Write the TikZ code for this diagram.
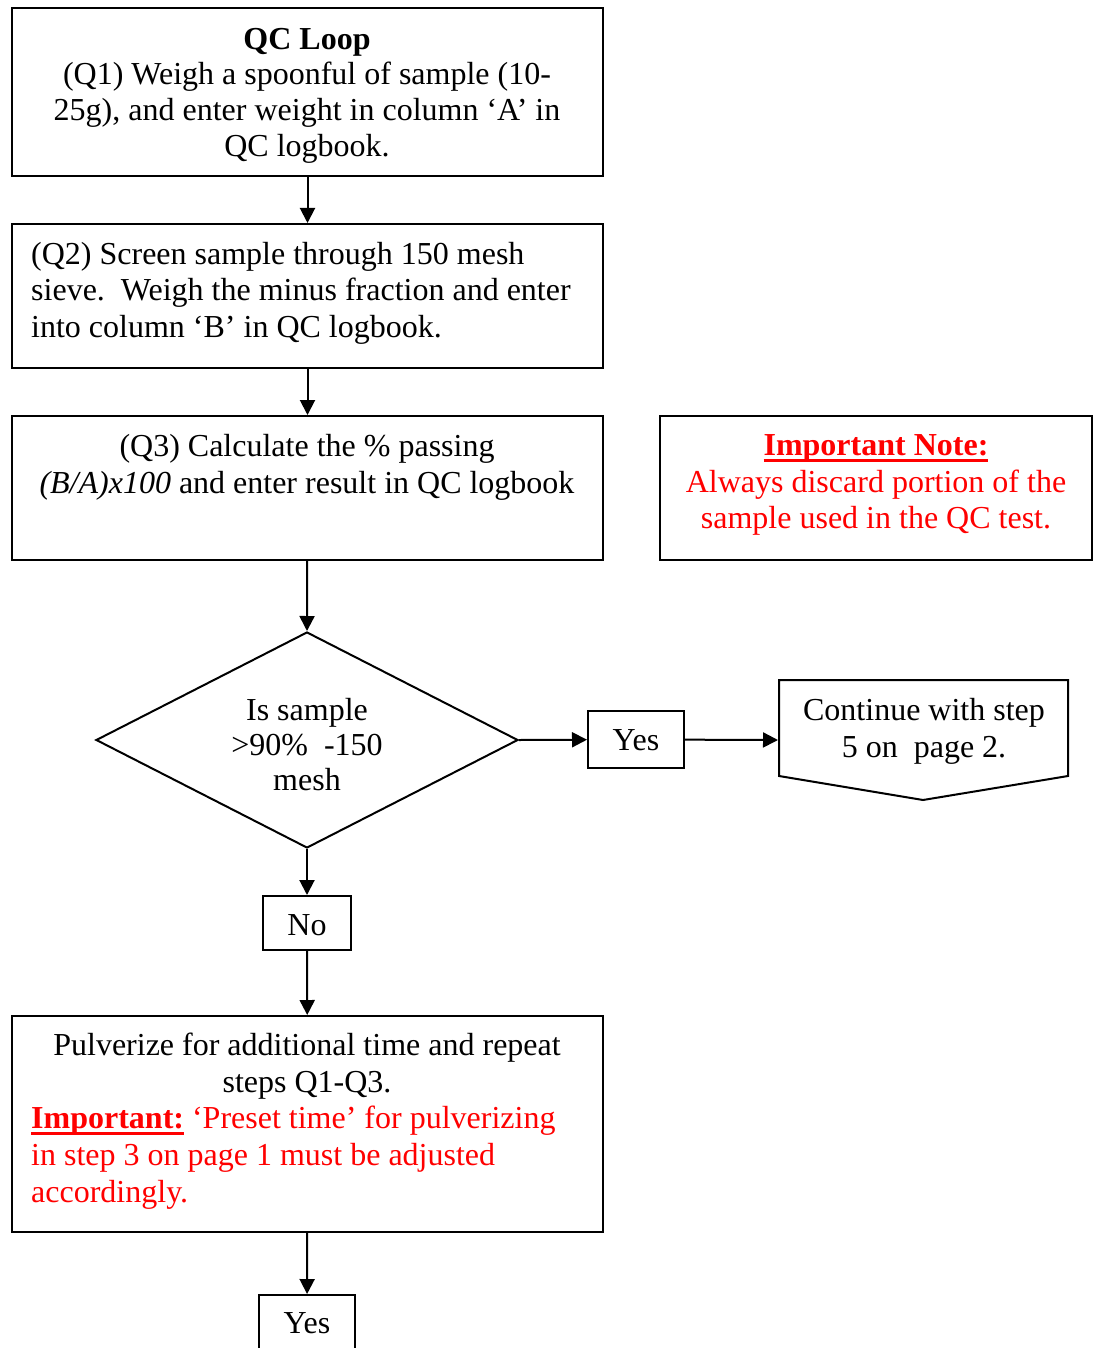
\documentclass[tikz,border=0pt]{standalone}
\usepackage{fontspec}
\setmainfont{Liberation Serif}
\usetikzlibrary{arrows.meta,shapes.geometric}
\definecolor{alertred}{RGB}{255,0,0}
% thick underline for the red headings
\newcommand{\thickul}[1]{\setbox0\hbox{#1}\rlap{\rule[-6.5pt]{\wd0}{3pt}}\box0\relax}

\begin{document}
\begin{tikzpicture}[x=1pt,y=-1pt,
  box/.style={draw,line width=2pt,inner sep=0pt},
  txt/.style={inner sep=0pt,anchor=base,font=\fontsize{32}{36}\selectfont},
  ltxt/.style={txt,anchor=base west},
  arr/.style={line width=2pt,-{Triangle[length=15pt,width=15pt]}}]

\fill[white] (0,0) rectangle (1098,1348);
\useasboundingbox (0,0) rectangle (1098,1348);

% process boxes
\node[box,minimum width=591pt,minimum height=168pt] (q1) at (307.5,92) {};
\node[box,minimum width=591pt,minimum height=144pt] (q2) at (307.5,296) {};
\node[box,minimum width=591pt,minimum height=144pt] (q3) at (307.5,488) {};
\node[box,minimum width=432pt,minimum height=144pt] (note) at (876,488) {};
\node[box,diamond,minimum width=422pt,minimum height=216pt] (dec) at (307,740) {};
\node[box,minimum width=96pt,minimum height=57pt] (yes1) at (636,739.5) {};
\node[box,minimum width=88pt,minimum height=54pt] (no) at (307,923) {};
\node[box,minimum width=591pt,minimum height=216pt] (pulv) at (307.5,1124) {};
\node[box,minimum width=96pt,minimum height=70pt] (yes2) at (307,1330) {};

% off-page connector
\draw[line width=2pt,line join=miter] (779,680) -- (1068,680) -- (1068,776) -- (923,800) -- (779,776) -- cycle;
\coordinate (contin) at (778,740);

% texts
\node[txt] (t1a) at (307,50) {\textbf{QC Loop}};
\node[txt] (t1b) at (307,85) {(Q1) Weigh a spoonful of sample (10-};
\node[txt] (t1c) at (307,121) {25g), and enter weight in column ‘A’ in};
\node[txt] (t1d) at (307,157) {QC logbook.};

\node[ltxt] (t2a) at (31,264) {(Q2) Screen sample through 150 mesh};
\node[ltxt] (t2b) at (31,300) {sieve.\ \ Weigh the minus fraction and enter};
\node[ltxt] (t2c) at (31,337) {into column ‘B’ in QC logbook.};

\node[txt] (t3a) at (307,456) {(Q3) Calculate the \% passing};
\node[txt] (t3b) at (307,493) {\textit{(B/A)x100} and enter result in QC logbook};

\node[txt,text=alertred] (tna) at (876,455) {\thickul{\textbf{Important Note:}}};
\node[txt,text=alertred] (tnb) at (876,492) {Always discard portion of the};
\node[txt,text=alertred] (tnc) at (876,528) {sample used in the QC test.};

\node[txt] (tda) at (307,720) {Is sample};
\node[txt] (tdb) at (307,755) {>90\%\ \ -150};
\node[txt] (tdc) at (307,790) {mesh};

\node[txt] (ty1) at (636,750) {Yes};
\node[txt] (tca) at (924,720) {Continue with step};
\node[txt] (tcb) at (924,757) {5 on\ \ page 2.};

\node[txt] (tno) at (307,935) {No};

\node[txt] (tpa) at (307,1055) {Pulverize for additional time and repeat};
\node[txt] (tpb) at (307,1092) {steps Q1-Q3.};
\node[ltxt,text=alertred] (tpc) at (31,1128) {\thickul{\textbf{Important:}} ‘Preset time’ for pulverizing};
\node[ltxt,text=alertred] (tpd) at (31,1165) {in step 3 on page 1 must be adjusted};
\node[ltxt,text=alertred] (tpe) at (31,1202) {accordingly.};

\node[txt] (ty2) at (307,1333) {Yes};

% connectors
\draw[arr] (q1) -- (q2);
\draw[arr] (q2) -- (q3);
\draw[arr] (q3) -- (dec.north);
\draw[arr] (dec.east) -- (yes1);
\draw[arr] (yes1) -- (contin);
\draw[arr] (dec.south) -- (no);
\draw[arr] (no) -- (pulv);
\draw[arr] (pulv) -- (yes2);
\end{tikzpicture}
\end{document}
